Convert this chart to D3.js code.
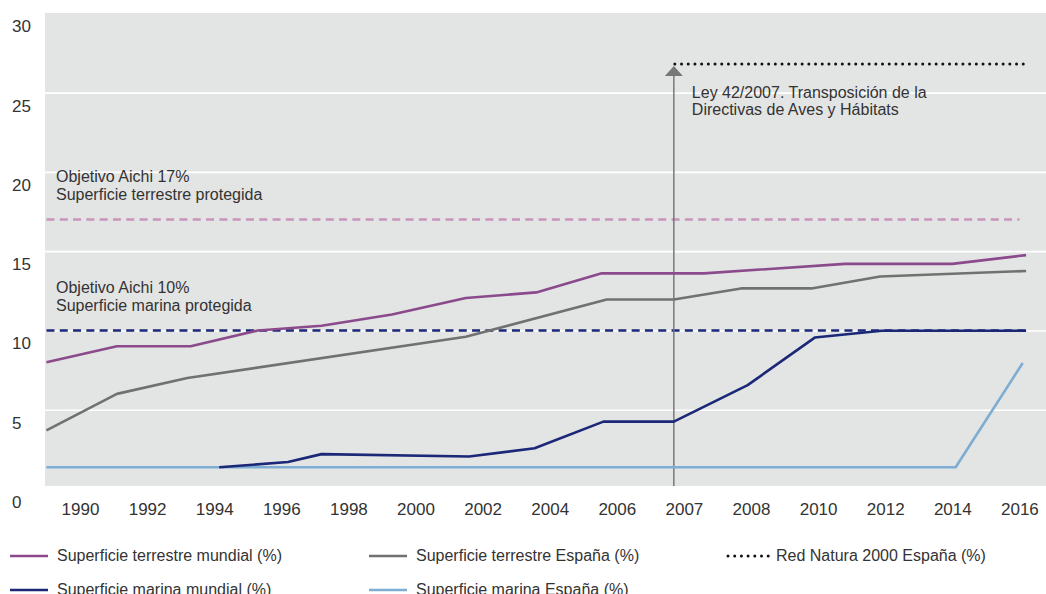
<!DOCTYPE html>
<html>
<head>
<meta charset="utf-8">
<script src="https://cdn.jsdelivr.net/npm/d3@7"></script>
<style>
  body { margin: 0; background: #fff; }
  svg { display: block; font-family: "Liberation Sans", Arial, sans-serif; }
</style>
</head>
<body>
<script>

// x labels (axis is not linear in time: 2006-2008 gets one step per year)
var yearLabels = [1990, 1992, 1994, 1996, 1998, 2000, 2002, 2004, 2006, 2007, 2008, 2010, 2012, 2014, 2016];
var yTicks = [0, 5, 10, 15, 20, 25, 30];

// series: [year, %]
var terrestreMundial = [[1989.0, 8.0], [1991.1, 9.0], [1993.3, 9.0], [1995.3, 10.0], [1997.2, 10.3], [1999.3, 11.0],
  [2001.5, 12.05], [2003.6, 12.4], [2005.55, 13.6], [2007.3, 13.6], [2010.8, 14.2], [2014.0, 14.2], [2016.2, 14.75]];
var terrestreEspana = [[1989.0, 3.7], [1991.1, 6.0], [1993.2, 7.0], [2001.5, 9.6], [2005.7, 11.95], [2006.85, 11.95],
  [2007.85, 12.65], [2009.8, 12.65], [2011.85, 13.4], [2016.2, 13.75]];
var marinaMundial = [[1994.15, 1.37], [1996.2, 1.7], [1997.2, 2.2], [2001.6, 2.05], [2003.55, 2.57], [2005.6, 4.25],
  [2006.85, 4.25], [2007.95, 6.55], [2009.9, 9.55], [2011.9, 9.98], [2016.2, 9.98]];
var marinaEspana = [[1989.0, 1.37], [2014.1, 1.37], [2016.1, 7.95]];

var aichiTerrestre = 17, aichiMarina = 10;
var redNatura = 26.8, leyYear = 2006.85;

var legendItems = [
  {name: "Superficie terrestre mundial (%)", color: "#8a4a8c", row: 0, col: 0},
  {name: "Superficie terrestre España (%)", color: "#717171", row: 0, col: 1},
  {name: "Red Natura 2000 España (%)", color: "#111", row: 0, col: 2, dotted: true},
  {name: "Superficie marina mundial (%)", color: "#1b2777", row: 1, col: 0},
  {name: "Superficie marina España (%)", color: "#7dadd3", row: 1, col: 1}
];

var W = 1046, H = 594;
var plot = {left: 45, top: 13, right: 1046, bottom: 486};
var step = 67.1, x0 = 80;

var x = d3.scaleLinear()
    .domain([1990, 2006, 2007, 2008, 2016])
    .range([x0, x0 + 8 * step, x0 + 9 * step, x0 + 10 * step, x0 + 14 * step]);

var y = d3.scaleLinear()
    .domain([0, 30])
    .range([489, 13.3]);

var svg = d3.select("body").append("svg")
    .attr("width", W)
    .attr("height", H);

svg.append("rect")
    .attr("x", plot.left).attr("y", plot.top)
    .attr("width", plot.right - plot.left).attr("height", plot.bottom - plot.top)
    .attr("fill", "#e3e4e4");

// gridlines
svg.append("g")
    .attr("transform", `translate(${plot.left},0)`)
    .call(d3.axisRight(y).tickValues([5, 10, 15, 20, 25]).tickSize(plot.right - plot.left).tickFormat(""))
    .call(g => g.select(".domain").remove())
    .call(g => g.selectAll("line").attr("stroke", "#fff").attr("stroke-width", 1.6));

// y labels sit below their gridline
svg.append("g").selectAll("text")
    .data(yTicks)
    .enter().append("text")
    .attr("x", 12)
    .attr("y", d => y(d) + 19)
    .attr("font-size", 17)
    .attr("fill", "#333")
    .text(d => d);

// x labels
svg.append("g")
    .attr("transform", "translate(0,495)")
    .call(d3.axisBottom(x).tickValues(yearLabels).tickFormat(d3.format("d")).tickSize(0))
    .call(g => g.select(".domain").remove())
    .call(g => g.selectAll("text")
        .attr("font-size", 17)
        .attr("font-family", "Liberation Sans, Arial, sans-serif")
        .attr("fill", "#333")
        .attr("dy", "1em"));

// target lines
svg.append("line")
    .attr("x1", x(1989)).attr("x2", x(2016))
    .attr("y1", y(aichiTerrestre)).attr("y2", y(aichiTerrestre))
    .attr("stroke", "#c994bb").attr("stroke-width", 2.6)
    .attr("stroke-dasharray", "8,5.3");

svg.append("line")
    .attr("x1", x(1989)).attr("x2", x(2016.2))
    .attr("y1", y(aichiMarina)).attr("y2", y(aichiMarina))
    .attr("stroke", "#1b2777").attr("stroke-width", 2.6)
    .attr("stroke-dasharray", "8,5.3");

var note = svg.append("g").attr("font-size", 16).attr("fill", "#333");
[[aichiTerrestre, "Objetivo Aichi 17%", "Superficie terrestre protegida"],
 [aichiMarina, "Objetivo Aichi 10%", "Superficie marina protegida"]].forEach(function(a) {
  note.append("text").attr("x", 56).attr("y", y(a[0]) - 37).text(a[1]);
  note.append("text").attr("x", 56).attr("y", y(a[0]) - 19).text(a[2]);
});

// law marker
var lx = x(leyYear);
svg.append("line")
    .attr("x1", lx).attr("x2", lx)
    .attr("y1", plot.bottom).attr("y2", 74)
    .attr("stroke", "#777").attr("stroke-width", 1.5);
svg.append("path")
    .attr("d", `M${lx - 9},76 L${lx},66 L${lx + 9},76 Z`)
    .attr("fill", "#777");

svg.append("line")
    .attr("x1", lx + 1).attr("x2", x(2016.3))
    .attr("y1", y(redNatura)).attr("y2", y(redNatura))
    .attr("stroke", "#111").attr("stroke-width", 3)
    .attr("stroke-linecap", "round")
    .attr("stroke-dasharray", "0,6.7");

note.append("text").attr("x", lx + 18).attr("y", 98).text("Ley 42/2007. Transposición de la");
note.append("text").attr("x", lx + 18).attr("y", 115).text("Directivas de Aves y Hábitats");

// series
var line = d3.line()
    .x(d => x(d[0]))
    .y(d => y(d[1]));

var series = [
  {data: marinaEspana, color: "#7dadd3"},
  {data: terrestreEspana, color: "#717171"},
  {data: terrestreMundial, color: "#8a4a8c"},
  {data: marinaMundial, color: "#1b2777"}
];

svg.append("g").selectAll("path")
    .data(series)
    .enter().append("path")
    .attr("d", d => line(d.data))
    .attr("fill", "none")
    .attr("stroke", d => d.color)
    .attr("stroke-width", 2.6)
    .attr("stroke-linejoin", "round");

// legend
var colX = [10, 369, 726], rowY = [561, 595];
var leg = svg.append("g").selectAll("g")
    .data(legendItems)
    .enter().append("g")
    .attr("transform", d => `translate(${colX[d.col]},${rowY[d.row]})`);

leg.append("line")
    .attr("x1", d => d.dotted ? 2 : 0).attr("x2", d => d.dotted ? 45 : 38)
    .attr("y1", -5).attr("y2", -5)
    .attr("stroke", d => d.color)
    .attr("stroke-width", d => d.dotted ? 3 : 2.6)
    .attr("stroke-linecap", d => d.dotted ? "round" : "butt")
    .attr("stroke-dasharray", d => d.dotted ? "0,6.7" : null);

leg.append("text")
    .attr("x", d => d.dotted ? 50 : 47)
    .attr("font-size", 16)
    .attr("fill", "#333")
    .text(d => d.name);

</script>
</body>
</html>
